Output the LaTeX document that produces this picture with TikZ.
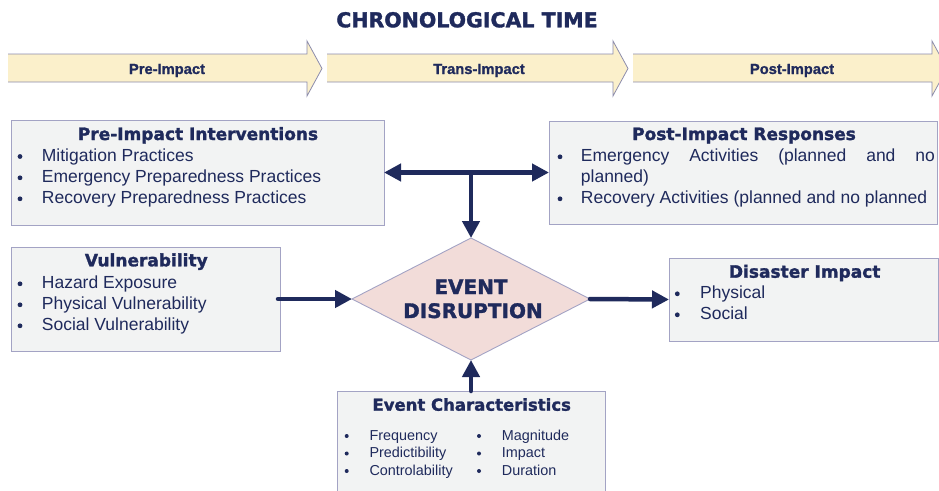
\documentclass[tikz,border=0pt]{standalone}
\usepackage{fontspec}
\setmainfont{Liberation Sans}[BoldFeatures={FakeBold=1.2}]
\newfontfamily\headfont{DejaVu Sans}[BoldFeatures={FakeBold=1.6}]
\usetikzlibrary{shapes.geometric,arrows.meta}

\definecolor{navy}{HTML}{1F2A5C}
\definecolor{boxfill}{HTML}{F2F3F3}
\definecolor{boxline}{HTML}{A3A3C4}
\definecolor{phasefill}{HTML}{FBF0CB}
\definecolor{phaseline}{HTML}{8C8CAC}
\definecolor{diafill}{HTML}{F2DCD9}

\tikzset{
  infobox/.style={draw=boxline, fill=boxfill, line width=0.9pt, inner sep=0pt,
    outer sep=0pt, anchor=north west},
  heading/.style={anchor=base, text=navy, inner sep=0pt,
    font=\headfont\bfseries\fontsize{17}{20}\selectfont},
  item/.style={anchor=base west, text=navy, inner sep=0pt,
    font=\fontsize{17.5}{21}\selectfont},
  smallitem/.style={anchor=base west, text=navy, inner sep=0pt,
    font=\fontsize{14.4}{17}\selectfont},
  phase/.style={fill=phasefill},
  phaseedge/.style={draw=phaseline, line width=0.8pt, line join=miter},
  phaselabel/.style={anchor=base, text=navy, inner sep=0pt,
    font=\bfseries\fontsize{14.7}{17}\selectfont},
  flow/.style={draw=navy, line width=4.5pt, line cap=round,
    -{Triangle[length=17pt,width=17pt]}},
  dot/.style={fill=navy},
}

\begin{document}
\begin{tikzpicture}[x=1pt, y=-1pt]
\useasboundingbox (0,0) rectangle (939,490);
\clip (0,0) rectangle (939,490);

% title
\node[anchor=base, text=navy, inner sep=0pt,
  font=\headfont\bfseries\fontsize{20.5}{24}\selectfont] (title) at (467,27.3) {CHRONOLOGICAL TIME};

% the three phases of the time line
\foreach \l/\r/\name in {8/307/p1, 327/613/p2, 633/932/p3}{
  \fill[phase] (\l,54) -- (\r,54) -- (\r,41) -- (\r+15,68.5) -- (\r,96) -- (\r,82) -- (\l,82) -- cycle;
  \draw[phaseedge] (\l,54) -- (\r,54) -- (\r,41) -- (\r+15,68.5) -- (\r,96) -- (\r,82) -- (\l,82);
}
\node[phaselabel] (pre) at (167,74) {Pre-Impact};
\node[phaselabel] (trans) at (479,74) {Trans-Impact};
\node[phaselabel] (post) at (792,74) {Post-Impact};

% boxes
\node[infobox, minimum width=373pt, minimum height=105pt] (interv) at (11,120) {};
\node[infobox, minimum width=388pt, minimum height=103pt] (resp) at (549,121) {};
\node[infobox, minimum width=269pt, minimum height=104pt] (vuln) at (11,247) {};
\node[infobox, minimum width=269pt, minimum height=83pt] (impact) at (669,258) {};
\node[infobox, minimum width=268pt, minimum height=115pt] (chars) at (337,391) {};

% central event
\node[diamond, draw=boxline, fill=diafill, line width=0.9pt, inner sep=0pt, outer sep=0pt,
  minimum width=238pt, minimum height=122pt] (event) at (471,299) {};
\node[anchor=base, text=navy, inner sep=0pt,
  font=\headfont\bfseries\fontsize{20}{24}\selectfont] (ev1) at (471,294) {EVENT};
\node[anchor=base, text=navy, inner sep=0pt,
  font=\headfont\bfseries\fontsize{20}{24}\selectfont] (ev2) at (473,318) {DISRUPTION};

% Pre-Impact Interventions
\node[heading] (h1) at (198,140) {Pre-Impact Interventions};
\node[item] (i11) at (41.7,161) {Mitigation Practices};
\node[item] (i12) at (41.7,182.3) {Emergency Preparedness Practices};
\node[item] (i13) at (41.7,203.3) {Recovery Preparedness Practices};
\foreach \y in {161,182.3,203.3} \fill[dot] (20,\y-4.5) circle (2.4);

% Post-Impact Responses
\node[heading] (h2) at (744,140) {Post-Impact Responses};
\node[item] (i21) at (580.7,161.3) {\makebox[354pt][s]{Emergency Activities (planned and no}};
\node[item] (i22) at (580.7,182.3) {planned)};
\node[item] (i23) at (580.7,203.3) {Recovery Activities (planned and no planned};
\foreach \y in {161.3,203.3} \fill[dot] (560,\y-4.5) circle (2.4);

% Vulnerability
\node[heading] (h3) at (146.3,266.3) {Vulnerability};
\node[item] (i31) at (41.7,288.3) {Hazard Exposure};
\node[item] (i32) at (41.7,309.3) {Physical Vulnerability};
\node[item] (i33) at (41.7,330.3) {Social Vulnerability};
\foreach \y in {288.3,309.3,330.3} \fill[dot] (20,\y-4.5) circle (2.4);

% Disaster Impact
\node[heading] (h4) at (804.7,277.7) {Disaster Impact};
\node[item] (i41) at (700,298.3) {Physical};
\node[item] (i42) at (700,319.3) {Social};
\foreach \y in {298.3,319.3} \fill[dot] (677.3,\y-4.5) circle (2.4);

% Event Characteristics
\node[heading, font=\headfont\bfseries\fontsize{16.5}{20}\selectfont] (h5) at (471.7,410.7) {Event Characteristics};
\node[smallitem] (i51) at (369.3,440) {Frequency};
\node[smallitem] (i52) at (369.3,457.5) {Predictibility};
\node[smallitem] (i53) at (369.3,475) {Controlability};
\node[smallitem] (i54) at (501.7,440) {Magnitude};
\node[smallitem] (i55) at (501.7,457.5) {Impact};
\node[smallitem] (i56) at (501.7,475) {Duration};
\foreach \y in {440,457.5,475}{
  \fill[dot] (346.7,\y-4) circle (2);
  \fill[dot] (479,\y-4) circle (2);
}

% connectors
\coordinate (tee) at (event.north |- interv.east);
\draw[flow, {Triangle[length=17pt,width=17pt]}-{Triangle[length=17pt,width=17pt]}] (interv.east) -- (resp.west);
\draw[flow] (tee) -- (event.north);
\draw[flow] ([xshift=-2pt]vuln.east) -- (event.west);
\draw[flow] (event.east) -- (impact.west);
\draw[flow] (chars.north) -- (event.south);
\end{tikzpicture}
\end{document}
